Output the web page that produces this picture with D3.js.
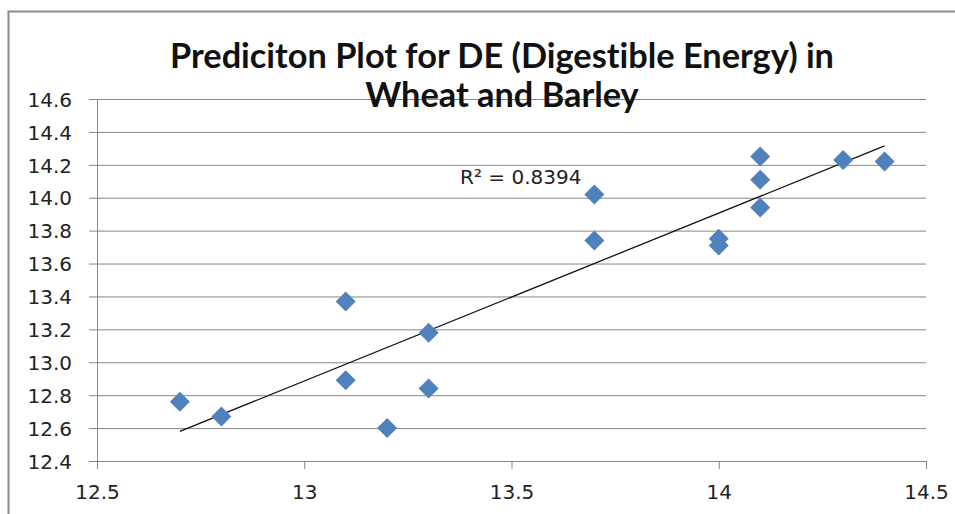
<!DOCTYPE html>
<html>
<head>
<meta charset="utf-8">
<script src="https://cdn.jsdelivr.net/npm/d3@7/dist/d3.min.js"></script>
<style>
  html, body { margin: 0; padding: 0; background: #fff; }
  svg { display: block; }
  text { font-variant-ligatures: none; font-feature-settings: "liga" 0, "clig" 0; }
  .tick text { font-family: "DejaVu Sans", Verdana, sans-serif; font-size: 20px; fill: #222; }
</style>
</head>
<body>
<svg id="chart" width="955" height="514"></svg>
<script>
// ---- data ----
const xValues = [12.7, 12.8, 13.1, 13.1, 13.2, 13.3, 13.3, 13.7, 13.7, 14.0, 14.0, 14.1, 14.1, 14.1, 14.3, 14.4];
const yValues = [12.76, 12.67, 13.37, 12.89, 12.60, 13.18, 12.84, 14.02, 13.74, 13.75, 13.71, 14.25, 14.11, 13.94, 14.23, 14.22];
const xTicks = [12.5, 13, 13.5, 14, 14.5];
const xTickLabels = ["12.5", "13", "13.5", "14", "14.5"];
const yTicks = [12.4, 12.6, 12.8, 13.0, 13.2, 13.4, 13.6, 13.8, 14.0, 14.2, 14.4, 14.6];
const yTickLabels = ["12.4", "12.6", "12.8", "13.0", "13.2", "13.4", "13.6", "13.8", "14.0", "14.2", "14.4", "14.6"];
const titleLines = ["Prediciton Plot for DE (Digestible Energy) in", "Wheat and Barley"];
const r2Label = "R² = 0.8394";
const r2Anchor = [13.376, 14.083];

// ---- layout ----
const svg = d3.select("#chart");
const plotLeft = 97, plotRight = 926, plotTop = 99, plotBottom = 461;
const x = d3.scaleLinear().domain([12.5, 14.5]).range([plotLeft, plotRight]);
const y = d3.scaleLinear().domain([12.4, 14.6]).range([plotBottom, plotTop]);
const gridColor = "#878787";

// chart border
svg.append("rect")
  .attr("x", 8.5).attr("y", 11.5).attr("width", 1000).attr("height", 700)
  .attr("fill", "#fff").attr("stroke", "#8a8a8a").attr("stroke-width", 2);

// horizontal gridlines
svg.append("g")
  .attr("transform", `translate(${plotLeft},0)`)
  .call(d3.axisRight(y).tickValues(yTicks).tickSize(plotRight - plotLeft).tickFormat(""))
  .call(g => g.select(".domain").remove())
  .call(g => g.selectAll("line").attr("stroke", gridColor));

// y axis
svg.append("g")
  .attr("transform", `translate(${plotLeft},0)`)
  .call(d3.axisLeft(y).tickValues(yTicks).tickSize(8).tickSizeOuter(0)
    .tickFormat((d, i) => yTickLabels[i]).tickPadding(17))
  .call(g => g.select(".domain").attr("stroke", gridColor))
  .call(g => g.selectAll("line").attr("stroke", gridColor))
  .call(g => g.selectAll("text").attr("dy", "0.36em"));

// x axis
svg.append("g")
  .attr("transform", `translate(0,${plotBottom})`)
  .call(d3.axisBottom(x).tickValues(xTicks).tickSize(8).tickSizeOuter(0)
    .tickFormat((d, i) => xTickLabels[i]).tickPadding(16))
  .call(g => g.select(".domain").attr("stroke", gridColor))
  .call(g => g.selectAll("line").attr("stroke", gridColor))
  .call(g => g.selectAll("text").attr("dy", "0.71em"));

// title
const title = svg.append("g");
titleLines.forEach((t, i) => {
  title.append("text")
    .attr("x", 502).attr("y", i === 0 ? 68 : 107)
    .attr("text-anchor", "middle")
    .attr("font-family", "Lato, 'Open Sans', sans-serif")
    .attr("font-weight", "bold")
    .attr("font-size", 28)
    .attr("fill", "#111")
    .text(t);
});
// fit first line width to reference width (~664px)
{
  const t0 = title.select("text").node();
  const w = t0.getComputedTextLength();
  const fs = 28 * 664 / w;
  title.selectAll("text").attr("font-size", fs);
}

// regression (trendline)
const n = xValues.length;
const mx = d3.mean(xValues), my = d3.mean(yValues);
let sxy = 0, sxx = 0;
for (let i = 0; i < n; i++) { sxy += (xValues[i] - mx) * (yValues[i] - my); sxx += (xValues[i] - mx) ** 2; }
const slope = sxy / sxx, intercept = my - slope * mx;
const xs = d3.extent(xValues);
svg.append("line")
  .attr("x1", x(xs[0])).attr("y1", y(intercept + slope * xs[0]))
  .attr("x2", x(xs[1])).attr("y2", y(intercept + slope * xs[1]))
  .attr("stroke", "#111").attr("stroke-width", 1.3);

// points
const pts = xValues.map((v, i) => [v, yValues[i]]);
svg.append("g").selectAll("path")
  .data(pts).join("path")
  .attr("d", d3.symbol(d3.symbolSquare, 200))
  .attr("transform", d => `translate(${x(d[0])},${y(d[1])}) rotate(45)`)
  .attr("fill", "#4F81BD");

// R² label
svg.append("text")
  .attr("x", x(r2Anchor[0])).attr("y", y(r2Anchor[1]))
  .attr("font-family", "'DejaVu Sans', Verdana, sans-serif")
  .attr("font-size", 20)
  .attr("fill", "#222")
  .text(r2Label);
</script>
</body>
</html>
